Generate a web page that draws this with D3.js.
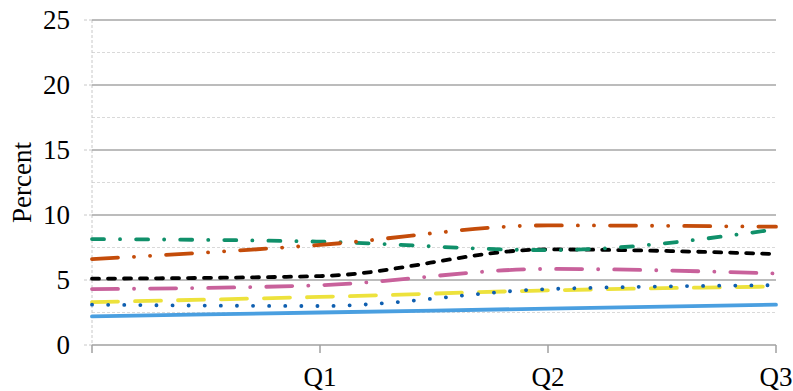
<!DOCTYPE html>
<html>
<head>
<meta charset="utf-8">
<script src="https://cdn.jsdelivr.net/npm/d3@7"></script>
<style>
  body { margin: 0; background: #fff; }
  svg text { font-family: "Liberation Serif", "DejaVu Serif", serif; fill: #000; }
</style>
</head>
<body>
<div id="chart"></div>
<script>
// categories along the x axis (first point has no label)
let categories = ["", "Q1", "Q2", "Q3"];
let yTicks = [0, 5, 10, 15, 20, 25];
let yMinorTicks = [2.5, 7.5, 12.5, 17.5, 22.5];

// series values
let blueSolid   = [2.2, 2.5, 2.8, 3.1];
let yellowDash  = [3.3, 3.7, 4.2, 4.5];
let blueDot     = [3.1, 3.0, 4.3, 4.6];
let pinkDashDot = [4.3, 4.6, 5.85, 5.5];
let blackDash   = [5.1, 5.3, 7.35, 7.0];
let greenDashDot = [8.15, 7.95, 7.3, 8.9];
let orangeDashDotDot = [6.6, 7.7, 9.2, 9.1];

let margin = {top: 20, right: 17, bottom: 46, left: 92},
    width = 793,
    height = 391;

let svg = d3.select("#chart")
    .append("svg")
    .attr("width", width)
    .attr("height", height);

let x = d3.scalePoint()
    .domain(categories)
    .range([margin.left, width - margin.right]);

let y = d3.scaleLinear()
    .domain([0, 25])
    .range([height - margin.bottom, margin.top]);

// minor gridlines (dashed)
svg.append("g")
    .selectAll("line")
    .data(yMinorTicks)
    .enter().append("line")
    .attr("x1", x.range()[0])
    .attr("x2", x.range()[1])
    .attr("y1", d => y(d))
    .attr("y2", d => y(d))
    .style("stroke", "#d9d9d9")
    .style("stroke-width", 1)
    .style("stroke-dasharray", "3,2");

// left axis line, dashed like the minor grid
svg.append("line")
    .attr("x1", margin.left).attr("x2", margin.left)
    .attr("y1", y(25)).attr("y2", y(0))
    .style("stroke", "#c8c8c8")
    .style("stroke-width", 1)
    .style("stroke-dasharray", "3,2");

// y tick marks and labels
let yAxis = svg.append("g");
yAxis.selectAll("line")
    .data(yTicks)
    .enter().append("line")
    .attr("x1", margin.left - 8)
    .attr("x2", margin.left)
    .attr("y1", d => y(d))
    .attr("y2", d => y(d))
    .style("stroke", "#c8c8c8")
    .style("stroke-width", 1)
    .style("stroke-dasharray", "3,2");

yAxis.selectAll("text")
    .data(yTicks)
    .enter().append("text")
    .attr("x", 70)
    .attr("y", d => y(d) + 9)
    .attr("text-anchor", "end")
    .attr("font-family", "Liberation Serif")
    .style("font-size", "27px")
    .text(d => d);

// major gridlines
svg.append("g")
    .selectAll("line")
    .data(yTicks.filter(d => d > 0))
    .enter().append("line")
    .attr("x1", x.range()[0])
    .attr("x2", x.range()[1])
    .attr("y1", d => y(d))
    .attr("y2", d => y(d))
    .style("stroke", "#a6a6a6")
    .style("stroke-width", 1.5);

// x axis
svg.append("line")
    .attr("x1", x.range()[0]).attr("x2", x.range()[1])
    .attr("y1", y(0)).attr("y2", y(0))
    .style("stroke", "#a0a0a0")
    .style("stroke-width", 1.5);

svg.append("g")
    .selectAll("line")
    .data(categories)
    .enter().append("line")
    .attr("x1", d => x(d))
    .attr("x2", d => x(d))
    .attr("y1", y(0))
    .attr("y2", y(0) + 8)
    .style("stroke", "#a0a0a0")
    .style("stroke-width", 1.5);

svg.append("g")
    .selectAll("text")
    .data(categories)
    .enter().append("text")
    .attr("x", d => x(d))
    .attr("y", 386)
    .attr("text-anchor", "middle")
    .attr("font-family", "Liberation Serif")
    .style("font-size", "27px")
    .text(d => d);

// y axis title
svg.append("text")
    .attr("transform", "translate(31," + y(12.5) + ") rotate(-90)")
    .attr("text-anchor", "middle")
    .attr("font-family", "Liberation Serif")
    .style("font-size", "27px")
    .text("Percent");

// series
let series = [
    {values: blueSolid, color: "#4a9fe0", dash: null},
    {values: yellowDash, color: "#ede23c", dash: "26,17"},
    {values: blueDot, color: "#0f5fb0", dash: "0.1,16"},
    {values: pinkDashDot, color: "#c8619b", dash: "26,16,0.1,16"},
    {values: blackDash, color: "#000000", dash: "7,9"},
    {values: greenDashDot, color: "#10906a", dash: "12,16,0.1,16"},
    {values: orangeDashDotDot, color: "#c44c0a", dash: "26,16,0.1,16,0.1,16"}
];

let line = d3.line()
    .x((d, i) => x(categories[i]))
    .y(d => y(d))
    .curve(d3.curveMonotoneX);

svg.append("g")
    .attr("class", "series")
    .selectAll("path")
    .data(series)
    .enter().append("path")
    .attr("d", d => line(d.values))
    .style("fill", "none")
    .style("stroke", d => d.color)
    .style("stroke-width", 3.8)
    .style("stroke-linecap", "round")
    .style("stroke-dasharray", d => d.dash);
</script>
</body>
</html>
